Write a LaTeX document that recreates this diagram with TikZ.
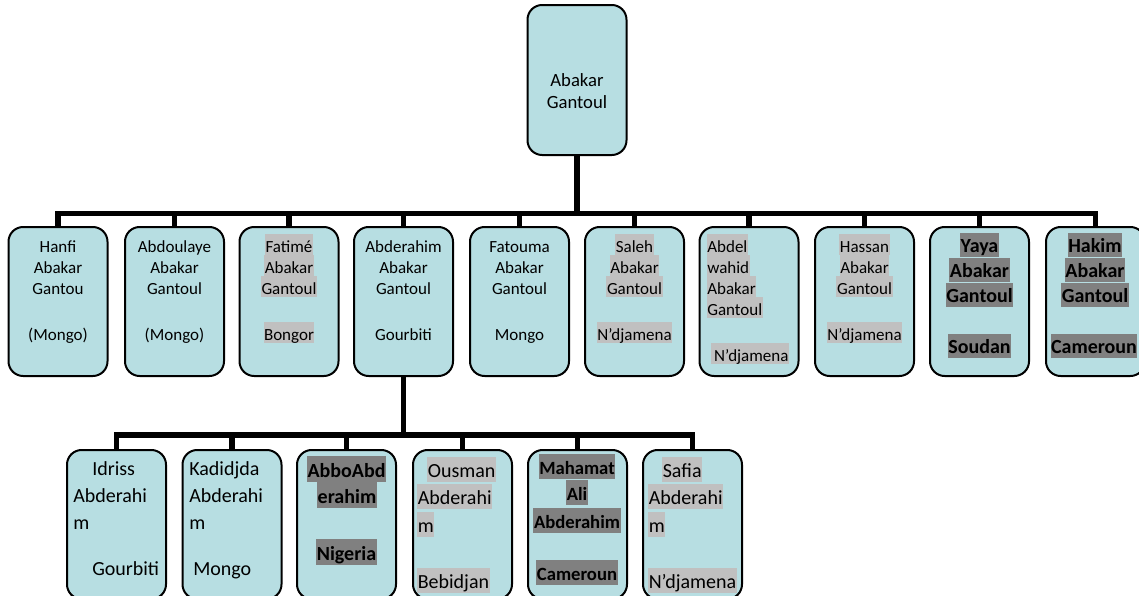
\documentclass[tikz,border=0pt]{standalone}
\usepackage{fontspec}
\setmainfont{Carlito}
\definecolor{boxfill}{HTML}{B7DEE2}
\definecolor{hllight}{HTML}{C0C0C0}
\definecolor{hldark}{HTML}{808080}
\tikzset{
  pbox/.style={draw, line width=1.5pt, rounded corners=11pt, fill=boxfill,
    minimum width=74.25pt, minimum height=111.75pt, inner sep=0pt},
  conn/.style={line width=4.1pt},
  rt/.style={font=\fontsize{14}{16}\selectfont, inner sep=0pt, anchor=base},
  lone/.style={font=\fontsize{12.75}{15}\selectfont, inner sep=0pt, anchor=base},
  lonehl/.style={lone, fill=hllight, inner xsep=0.4pt, inner ysep=0pt, text height=13.5pt, text depth=2.4pt},
  lonedk/.style={font=\fontsize{15}{18}\selectfont\bfseries, inner sep=0pt, anchor=base,
    fill=hldark, inner xsep=0.4pt, text height=14.6pt, text depth=4pt},
  ltwo/.style={font=\fontsize{15}{18}\selectfont, inner sep=0pt, anchor=base west},
  ltwohl/.style={ltwo, fill=hllight, inner xsep=0.4pt, inner ysep=0pt, text height=14.8pt, text depth=3.8pt},
  ltwodk/.style={font=\fontsize{15}{18}\selectfont\bfseries, inner sep=0pt, anchor=base,
    fill=hldark, inner xsep=0.4pt, text height=15.6pt, text depth=4pt},
  ltwodks/.style={font=\fontsize{14}{17}\selectfont\bfseries, inner sep=0pt, anchor=base,
    fill=hldark, inner xsep=0.4pt, text height=14.8pt, text depth=3.4pt},
}
\begin{document}
\begin{tikzpicture}[x=0.75pt,y=-0.75pt]
\useasboundingbox (0,0) rectangle (1139,596);
% boxes
\node[pbox, minimum height=112.5pt] (root) at (577,80) {};
\node[pbox] (c1) at (58,301.5) {};
\node[pbox] (c2) at (174.5,301.5) {};
\node[pbox] (c3) at (289,301.5) {};
\node[pbox] (c4) at (403.5,301.5) {};
\node[pbox] (c5) at (519.5,301.5) {};
\node[pbox] (c6) at (634.5,301.5) {};
\node[pbox] (c7) at (749,301.5) {};
\node[pbox] (c8) at (864.5,301.5) {};
\node[pbox] (c9) at (979.5,301.5) {};
\node[pbox] (c10) at (1095.5,301.5) {};
\node[pbox] (d1) at (116.5,524.5) {};
\node[pbox] (d2) at (232,524.5) {};
\node[pbox] (d3) at (346.5,524.5) {};
\node[pbox] (d4) at (462.5,524.5) {};
\node[pbox] (d5) at (577.5,524.5) {};
\node[pbox] (d6) at (692.5,524.5) {};
% connectors
\coordinate (bus1) at (0,213.5);
\coordinate (bus2) at (0,435);
\draw[conn] (root.south) -- (root.south |- bus1);
\draw[conn] (c1.north) |- (c10.north |- bus1) -- (c10.north);
\foreach \i in {2,...,9} \draw[conn] (c\i.north) -- (c\i.north |- bus1);
\draw[conn] (c4.south) -- (c4.south |- bus2);
\draw[conn] (d1.north) |- (d6.north |- bus2) -- (d6.north);
\foreach \i in {2,...,5} \draw[conn] (d\i.north) -- (d\i.north |- bus2);
% root text
\node[rt] (r1) at (577,86) {Abakar};
\node[rt] (r2) at (577,108) {Gantoul};
% level 1
\node[lone] (c1a) at (58,252) {Hanfi};
\node[lone] (c1b) at (58,273) {Abakar};
\node[lone] (c1c) at (58,294) {Gantou};
\node[lone] (c1d) at (58,340) {(Mongo)};
\node[lone] (c2a) at (174.5,252) {Abdoulaye};
\node[lone] (c2b) at (174.5,273) {Abakar};
\node[lone] (c2c) at (174.5,294) {Gantoul};
\node[lone] (c2d) at (174.5,340) {(Mongo)};
\node[lonehl] (c3a) at (289,252) {Fatimé};
\node[lonehl] (c3b) at (289,273) {Abakar};
\node[lonehl] (c3c) at (289,294) {Gantoul};
\node[lonehl] (c3d) at (289,340) {Bongor};
\node[lone] (c4a) at (403.5,252) {Abderahim};
\node[lone] (c4b) at (403.5,273) {Abakar};
\node[lone] (c4c) at (403.5,294) {Gantoul};
\node[lone] (c4d) at (403.5,340) {Gourbiti};
\node[lone] (c5a) at (519.5,252) {Fatouma};
\node[lone] (c5b) at (519.5,273) {Abakar};
\node[lone] (c5c) at (519.5,294) {Gantoul};
\node[lone] (c5d) at (519.5,340) {Mongo};
\node[lonehl] (c6a) at (634.5,252) {Saleh};
\node[lonehl] (c6b) at (634.5,273) {Abakar};
\node[lonehl] (c6c) at (634.5,294) {Gantoul};
\node[lonehl] (c6d) at (634.5,340) {N’djamena};
\node[lonehl, anchor=base west] (c7a) at (706.5,252) {Abdel};
\node[lonehl, anchor=base west] (c7b) at (706.5,273) {wahid};
\node[lonehl, anchor=base west] (c7c) at (706.5,294) {Abakar};
\node[lonehl, anchor=base west] (c7d) at (706.5,315) {Gantoul};
\node[lonehl] (c7e) at (750,361) {\hspace{2pt}N’djamena};
\node[lonehl] (c8a) at (864.5,252) {Hassan};
\node[lonehl] (c8b) at (864.5,273) {Abakar};
\node[lonehl] (c8c) at (864.5,294) {Gantoul};
\node[lonehl] (c8d) at (864.5,340) {N’djamena};
\node[lonedk] (c9a) at (979.5,252) {Yaya};
\node[lonedk] (c9b) at (979.5,277) {Abakar};
\node[lonedk] (c9c) at (979.5,302) {Gantoul};
\node[lonedk] (c9d) at (979.5,353) {Soudan};
\node[lonedk] (c10a) at (1095,252) {Hakim};
\node[lonedk] (c10b) at (1095,277) {Abakar};
\node[lonedk] (c10c) at (1095,302) {Gantoul};
\node[lonedk] (c10d) at (1094,353) {Cameroun};
% level 2
\node[ltwo] (d1a) at (92,475) {Idriss};
\node[ltwo] (d1b) at (73,502) {Abderahi};
\node[ltwo] (d1c) at (73,529) {m};
\node[ltwo] (d1d) at (92,575) {Gourbiti};
\node[ltwo] (d2a) at (189,475) {Kadidjda};
\node[ltwo] (d2b) at (189,502) {Abderahi};
\node[ltwo] (d2c) at (189,529) {m};
\node[ltwo] (d2d) at (193,575) {Mongo};
\node[ltwodk] (d3a) at (346.5,477) {AbboAbd};
\node[ltwodk] (d3b) at (347,503) {erahim};
\node[ltwodk] (d3c) at (346.5,560) {Nigeria};
\node[ltwohl] (d4a) at (427,477) {Ousman};
\node[ltwohl] (d4b) at (417,504) {Abderahi};
\node[ltwohl] (d4c) at (417,532) {m};
\node[ltwohl] (d4d) at (417,588) {Bebidjan};
\node[ltwodks] (d5a) at (577,474) {Mahamat};
\node[ltwodks] (d5b) at (577,500) {Ali};
\node[ltwodks] (d5c) at (577,528) {Abderahim};
\node[ltwodks] (d5d) at (577,580) {Cameroun};
\node[ltwohl] (d6a) at (662,477) {Safia};
\node[ltwohl] (d6b) at (648,504) {Abderahi};
\node[ltwohl] (d6c) at (648,532) {m};
\node[ltwohl] (d6d) at (648,588) {N’djamena};
\end{tikzpicture}
\end{document}
